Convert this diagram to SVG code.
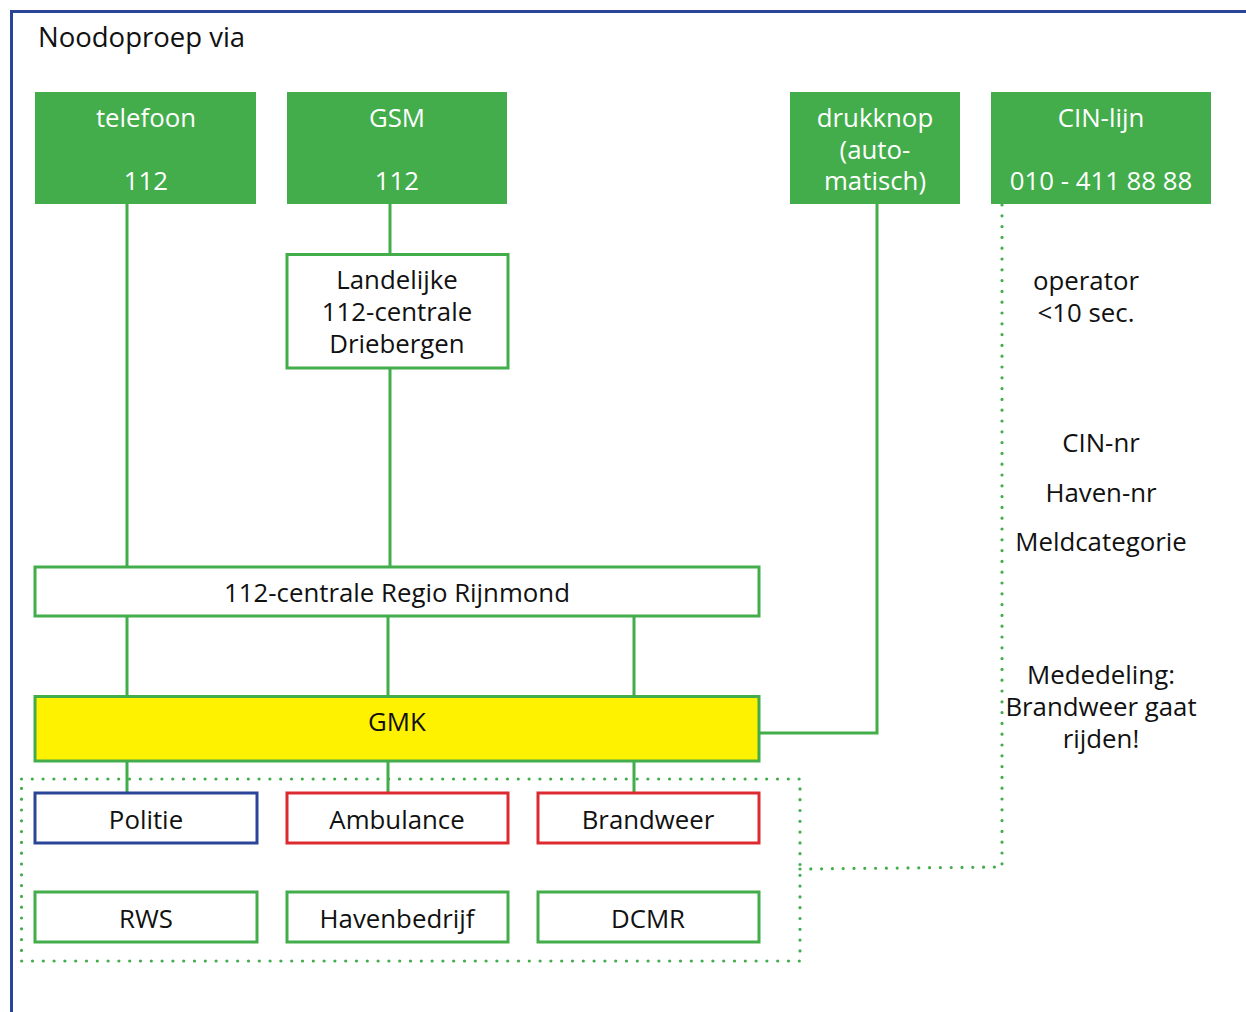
<svg xmlns="http://www.w3.org/2000/svg" width="1246" height="1012" viewBox="0 0 1246 1012">
<style>
text{font-family:"Open Sans","Noto Sans",sans-serif;font-size:25.8px;text-anchor:middle;fill:#111}
.w{fill:#fff}
.src{fill:#43ad4b}
.box{fill:#fff;stroke:#43ad4b;stroke-width:3}
.ln{stroke:#43ad4b;stroke-width:3;fill:none}
.dot{stroke:#43ad4b;stroke-width:3.2;fill:none;stroke-linecap:round;stroke-dasharray:0 10.8}
</style>
<rect width="1246" height="1012" fill="#fff"/>
<path d="M11.5 1012 V11.5 H1246" fill="none" stroke="#2a4597" stroke-width="3"/>
<text x="38" y="47" style="text-anchor:start;font-size:27.5px">Noodoproep via</text>
<g id="connectors">
<path class="ln" d="M127 204 V567"/>
<path class="ln" d="M390 204 V254 M390 368 V567"/>
<path class="ln" d="M127 616 V696 M388 616 V696 M634 616 V696"/>
<path class="ln" d="M127 761 V793 M388 761 V793 M634 761 V793"/>
<path class="ln" d="M877 204 V733 H759"/>
<path class="dot" d="M21.5 779 H800 V961 H21.5 Z"/>
<path class="dot" d="M800 869 L1002 867 V204"/>
</g>
<g id="telefoon"><rect class="src" x="35" y="92" width="221" height="112"/><text class="w" x="146" y="127">telefoon</text><text class="w" x="146" y="190">112</text></g>
<g id="gsm"><rect class="src" x="287" y="92" width="220" height="112"/><text class="w" x="397" y="127">GSM</text><text class="w" x="397" y="190">112</text></g>
<g id="drukknop"><rect class="src" x="790" y="92" width="170" height="112"/><text class="w" x="875" y="127">drukknop</text><text class="w" x="875" y="159">(auto-</text><text class="w" x="875" y="190">matisch)</text></g>
<g id="cinlijn"><rect class="src" x="991" y="92" width="220" height="112"/><text class="w" x="1101" y="127">CIN-lijn</text><text class="w" x="1101" y="190">010 - 411 88 88</text></g>
<g id="landelijke"><rect class="box" x="287" y="254.5" width="221" height="113.5"/><text x="397" y="289">Landelijke</text><text x="397" y="321">112-centrale</text><text x="397" y="353">Driebergen</text></g>
<g id="rijnmond"><rect class="box" x="35" y="567" width="724" height="49"/><text x="397" y="602">112-centrale Regio Rijnmond</text></g>
<g id="gmk"><rect class="box" x="35" y="696.5" width="724" height="64.5" style="fill:#fff200"/><text x="397" y="731">GMK</text></g>
<g id="politie"><rect class="box" x="35" y="793" width="222" height="50" style="stroke:#2a4597"/><text x="146" y="829">Politie</text></g>
<g id="ambulance"><rect class="box" x="287" y="793" width="221" height="50" style="stroke:#dc2a30"/><text x="397" y="829">Ambulance</text></g>
<g id="brandweer"><rect class="box" x="538" y="793" width="221" height="50" style="stroke:#dc2a30"/><text x="648" y="829">Brandweer</text></g>
<g id="rws"><rect class="box" x="35" y="892" width="222" height="50"/><text x="146" y="928">RWS</text></g>
<g id="havenbedrijf"><rect class="box" x="287" y="892" width="221" height="50"/><text x="397" y="928">Havenbedrijf</text></g>
<g id="dcmr"><rect class="box" x="538" y="892" width="221" height="50"/><text x="648" y="928">DCMR</text></g>
<g id="labels">
<text x="1086" y="290">operator</text><text x="1086" y="322">&lt;10 sec.</text>
<text x="1101" y="452">CIN-nr</text><text x="1101" y="502">Haven-nr</text><text x="1101" y="551">Meldcategorie</text>
<text x="1101" y="684">Mededeling:</text><text x="1101" y="716">Brandweer gaat</text><text x="1101" y="748">rijden!</text>
</g>
</svg>
